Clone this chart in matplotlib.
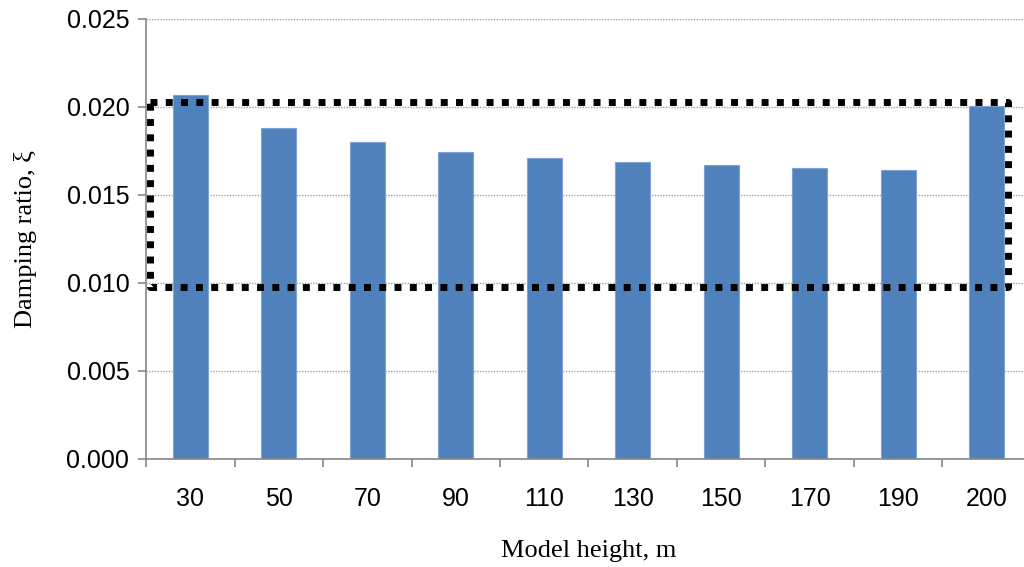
import matplotlib.pyplot as plt

heights = ['30', '50', '70', '90', '110', '130', '150', '170', '190', '200']
damping = [0.0207, 0.01879, 0.01799, 0.01744, 0.0171, 0.01688, 0.0167, 0.01653, 0.0164, 0.02006]

# dotted box around the bars
box_x = [-0.455, 9.24]
box_y = [0.00976, 0.02028]

fig = plt.figure(figsize=(10.24, 5.67), dpi=100)
ax = fig.add_axes([0.1426, 0.1905, 0.8642, 0.776])

x = range(len(heights))
ax.bar(x, damping, width=0.4, color='#4F81BD', edgecolor='#7FA3D3', linewidth=0.8, zorder=2)

ax.set_xlim(-0.5, len(heights) - 0.5)
ax.set_ylim(0, 0.025)
ax.set_yticks([0, 0.005, 0.01, 0.015, 0.02, 0.025])
ax.set_yticklabels(['0.000', '0.005', '0.010', '0.015', '0.020', '0.025'],
                   family='Liberation Sans', fontsize=18)
ax.set_xticks(list(x))
ax.set_xticklabels(heights, family='Liberation Sans', fontsize=18)
ax.set_xticks([i - 0.5 for i in range(len(heights) + 1)], minor=True)
ax.tick_params(axis='x', which='major', length=0, pad=20)
ax.tick_params(axis='x', which='minor', length=6, width=1.2, color='#868686')
ax.tick_params(axis='y', length=6, width=1.2, color='#868686', pad=6)

ax.yaxis.grid(True, linestyle=(0, (1, 1)), color='#A0A0A0', linewidth=1.0, zorder=0)
for side in ['top', 'right']:
    ax.spines[side].set_visible(False)
for side in ['left', 'bottom']:
    ax.spines[side].set_color('#868686')
    ax.spines[side].set_linewidth(1.2)

bx = [box_x[0], box_x[1], box_x[1], box_x[0], box_x[0]]
by = [box_y[1], box_y[1], box_y[0], box_y[0], box_y[1]]
ax.plot(bx, by, color='black', linewidth=5, linestyle=(0, (1, 1.2)),
        dash_capstyle='butt', zorder=3, clip_on=False)

ax.set_ylabel('Damping ratio, ξ', family='Liberation Serif', fontsize=19, labelpad=21)
ax.set_xlabel('Model height, m', family='Liberation Serif', fontsize=19, labelpad=21)

plt.savefig('out.png', dpi=100)
